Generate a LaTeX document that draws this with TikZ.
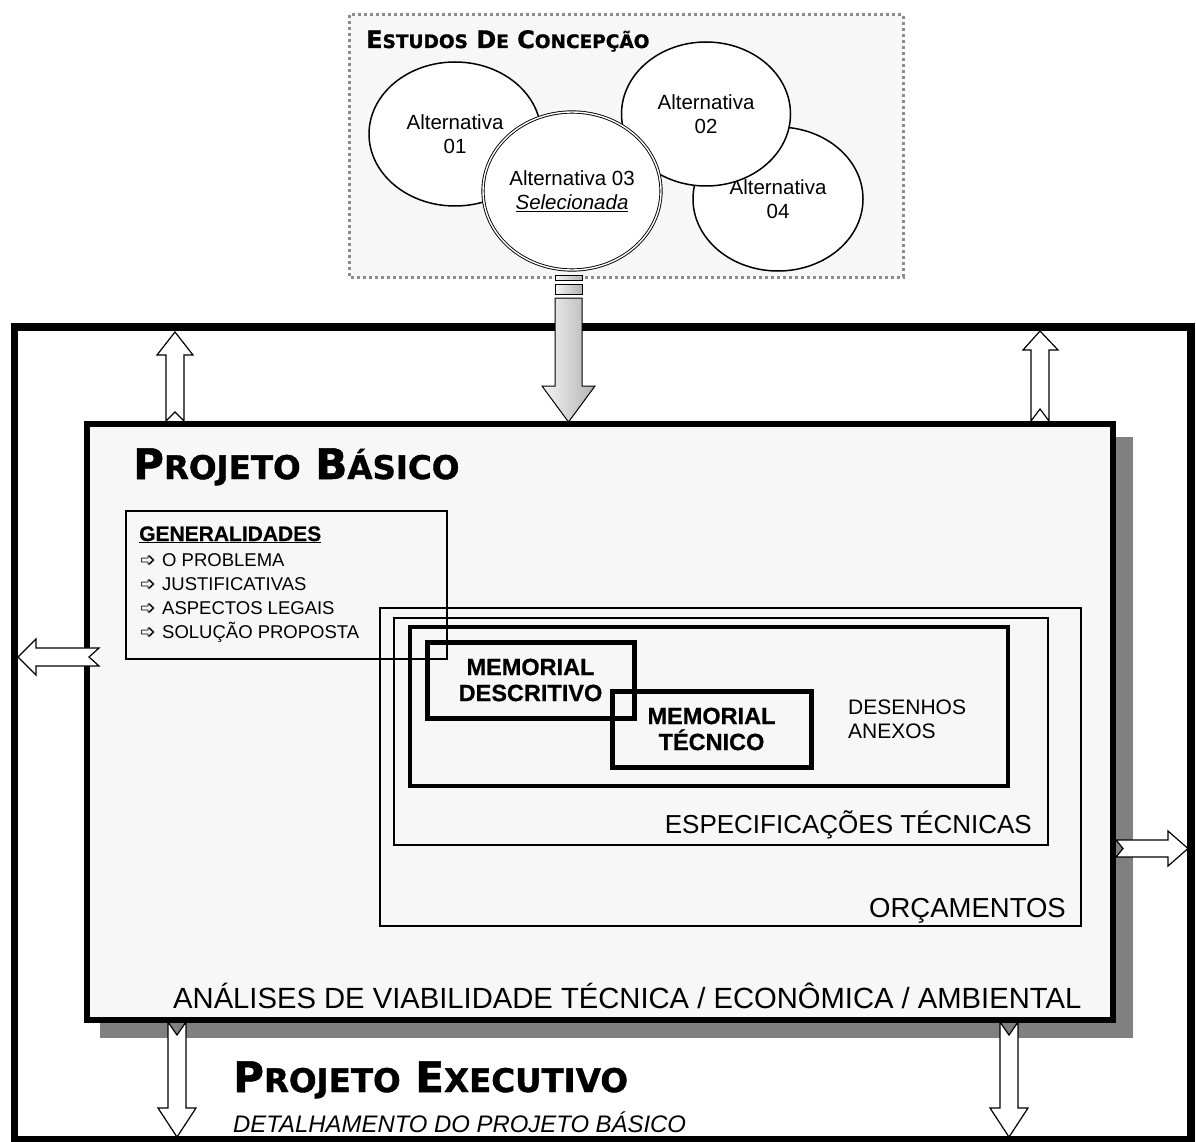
\documentclass[tikz,border=0pt]{standalone}
\usepackage{fontspec}
\setmainfont{Liberation Sans}[BoldFeatures={FakeBold=0.6}]
\newfontfamily\tahoma{DejaVu Sans}[BoldFeatures={FakeBold=1.2}]
\newfontfamily\dingfont{DejaVu Sans}
\usetikzlibrary{shapes.geometric}

\definecolor{papel}{HTML}{F7F7F7}
\definecolor{sombra}{HTML}{808080}
\newcommand\fs[2]{\fontsize{#1}{#2}\selectfont}
\newcommand\petit[2]{{\fontsize{#1}{#1}\selectfont #2}}
\newcommand\seta{\makebox[22pt][l]{\dingfont\fs{19}{20}➩}}

\tikzset{
  alt/.style={ellipse, draw, line width=1.5pt, fill=white, inner sep=0pt,
    align=center, font=\fs{20.5}{24}},
  blockarrow/.style={draw, fill=white, line width=1.2pt, line join=miter},
  lupa/.style={draw, line width=1pt, left color=gray!8, right color=gray!60},
  memo/.style={draw, line width=5pt, align=center, inner sep=0pt,
    font=\bfseries\fs{23.5}{26}},
  txt/.style={inner sep=0pt, anchor=base west}
}

\begin{document}
\begin{tikzpicture}[x=1pt, y=-1pt, line join=miter]
    \useasboundingbox (0,0) rectangle (1196,1142);

    % 外枠 (Projeto Executivo)
    \draw[line width=7.5pt, fill=white] (14.5,327) rectangle (1191,1140);

    % Projeto Básico の枠と影
    \fill[sombra] (100,437) rectangle (1133,1038);
    \draw[line width=6pt, fill=papel] (87,424) rectangle (1113,1020);

    % 上向きの矢印
    \draw[blockarrow] (166,421) -- (166,355) -- (157,355) -- (175,332)
      -- (193,355) -- (184,355) -- (184,421) -- (175,412) -- cycle;
    \draw[blockarrow] (1031,421) -- (1031,350) -- (1023,350) -- (1040,331)
      -- (1058,350) -- (1049,350) -- (1049,421) -- (1040,409) -- cycle;

    % 左右の矢印
    \draw[blockarrow] (99,648) -- (36,648) -- (36,639) -- (18,657)
      -- (36,675) -- (36,666) -- (99,666) -- (89,657) -- cycle;
    \draw[blockarrow] (1116,840) -- (1168,840) -- (1168,831) -- (1188,848.5)
      -- (1168,866) -- (1168,857) -- (1116,857) -- (1123,848.5) -- cycle;

    % 下向きの矢印
    \draw[blockarrow] (168,1022) -- (177,1035) -- (186,1022) -- (186,1108)
      -- (196,1108) -- (177,1137) -- (158,1108) -- (168,1108) -- cycle;
    \draw[blockarrow] (1000,1022) -- (1009,1035) -- (1018,1022) -- (1018,1108)
      -- (1028,1108) -- (1009,1137) -- (990,1108) -- (1000,1108) -- cycle;

    % Estudos de Concepção
    \draw[draw=black!45, line width=3pt, dash pattern=on 3pt off 3pt, fill=papel]
      (349,15) rectangle (903,277);
    \node[txt, font=\tahoma\bfseries\fs{24}{28}] (estudos) at (366,48)
      {E\petit{18.5}{STUDOS} D\petit{18.5}{E} C\petit{18.5}{ONCEPÇÃO}};

    % 代替案
    \node[alt, minimum width=170pt, minimum height=144pt] (alt04) at (778,199) {Alternativa\\04};
    \node[alt, minimum width=172pt, minimum height=144pt] (alt01) at (455,134) {Alternativa\\01};
    \node[alt, minimum width=169pt, minimum height=144pt] (alt02) at (706,114) {Alternativa\\02};
    \node[alt, minimum width=178pt, minimum height=158pt, inner xsep=-4pt,
      line width=0.9pt, double, double distance=1.4pt] (alt03) at (572,191)
      {Alternativa 03\\\textit{\underline{Selecionada}}};

    % 虫めがねの柄
    \shadedraw[lupa] (555,275) rectangle (582,280);
    \shadedraw[lupa] (555,284) rectangle (582,294);
    \shadedraw[lupa] (555,298) -- (582,298) -- (582,386) -- (595,386)
      -- (568.5,422) -- (542,386) -- (555,386) -- cycle;

    % Projeto Básico
    \node[txt, font=\tahoma\bfseries\fs{42}{50}] (basico) at (133,479)
      {P\petit{32.5}{ROJETO} B\petit{32.5}{ÁSICO}};

    % Generalidades
    \draw[line width=1.5pt] (126,511) rectangle (447,659);
    \node[txt, font=\bfseries\fs{21}{24}] (gen) at (139,541) {\underline{GENERALIDADES}};
    \node[txt, font=\fs{18.5}{22}] (gen1) at (140,566) {\seta O PROBLEMA};
    \node[txt, font=\fs{18.5}{22}] (gen2) at (140,590) {\seta JUSTIFICATIVAS};
    \node[txt, font=\fs{18.5}{22}] (gen3) at (140,614) {\seta ASPECTOS LEGAIS};
    \node[txt, font=\fs{18.5}{22}] (gen4) at (140,638) {\seta SOLUÇÃO PROPOSTA};

    % 入れ子の枠
    \draw[line width=1.5pt] (380,608) rectangle (1081,926);
    \draw[line width=2.5pt] (394,618) rectangle (1048,845);
    \draw[line width=4pt] (410,627) rectangle (1008,786);

    % Memoriais
    \node[memo, minimum width=207pt, minimum height=76pt] (descritivo) at (530.5,680)
      {MEMORIAL\\DESCRITIVO};
    \node[memo, minimum width=199pt, minimum height=76pt] (tecnico) at (711.5,729)
      {MEMORIAL\\TÉCNICO};

    % 各ラベル
    \node[txt, align=left, font=\fs{21}{24}] (desenhos) at (848,738) {DESENHOS\\ANEXOS};
    \node[txt, anchor=base east, font=\fs{26}{30}] (espec) at (1032,833) {ESPECIFICAÇÕES TÉCNICAS};
    \node[txt, anchor=base east, font=\fs{27.5}{30}] (orcam) at (1066,917) {ORÇAMENTOS};
    \node[txt, font=\fs{29.2}{32}] (analises) at (173,1008)
      {ANÁLISES DE VIABILIDADE TÉCNICA / ECONÔMICA / AMBIENTAL};

    % Projeto Executivo
    \node[txt, font=\tahoma\bfseries\fs{42}{50}] (executivo) at (233,1092)
      {P\petit{32.5}{ROJETO} E\petit{32.5}{XECUTIVO}};
    \node[txt, font=\itshape\fs{23.9}{28}] (detalhe) at (233,1132)
      {DETALHAMENTO DO PROJETO BÁSICO};
  \end{tikzpicture}
\end{document}
